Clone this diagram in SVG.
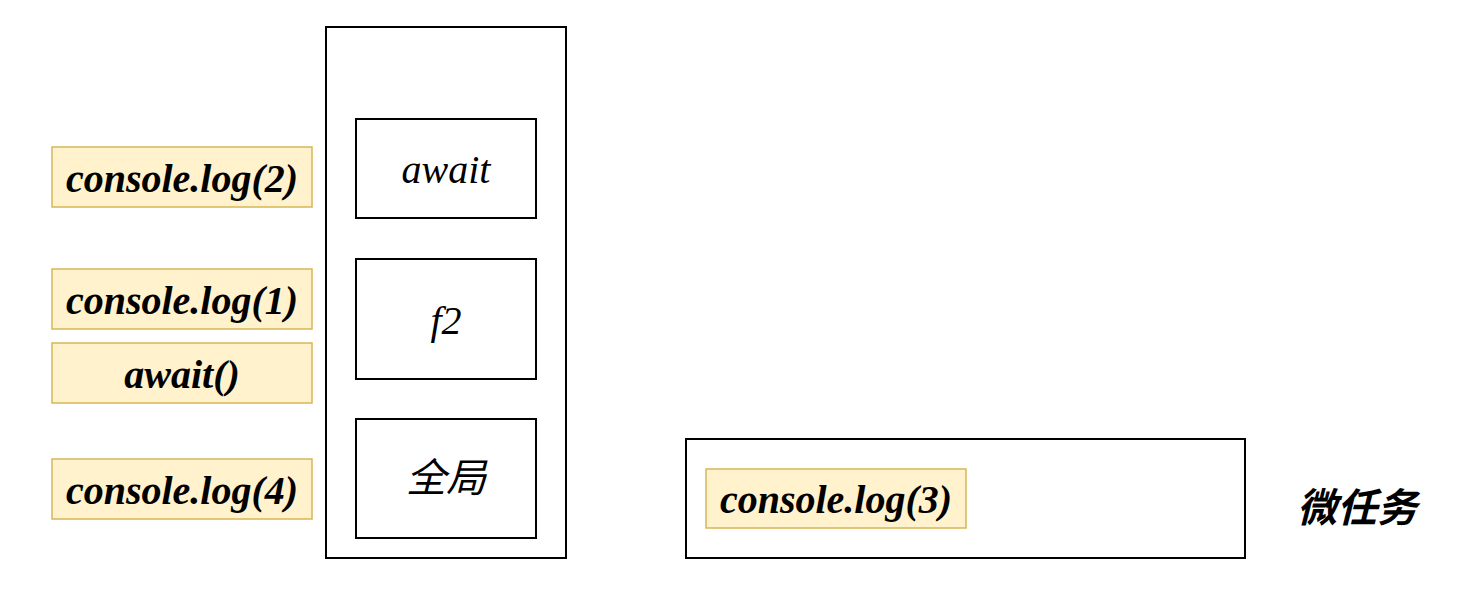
<svg xmlns="http://www.w3.org/2000/svg" width="1460" height="592" viewBox="0 0 1460 592">
<style>
.frame{fill:#fff;stroke:#000;stroke-width:2}
.task{fill:#fff2cc;stroke:#d6b656;stroke-width:1.5}
.tt{font-family:'Liberation Serif','Times New Roman',Tinos,'DejaVu Serif',serif;font-weight:bold;font-style:italic;font-size:40px;fill:#000;text-anchor:middle;dominant-baseline:central}
.st{font-family:'Liberation Serif','Times New Roman',Tinos,'DejaVu Serif',serif;font-style:italic;font-size:40px;fill:#000;text-anchor:middle;dominant-baseline:central}
.cjk{font-family:'Liberation Sans','Noto Sans CJK SC',sans-serif;font-style:italic;font-size:40px;fill:#000;text-anchor:middle;dominant-baseline:central}
</style>
<rect width="1460" height="592" fill="#fff"/>
<g id="stack"><rect class="frame" x="326" y="27" width="240" height="531"/></g>
<g id="frame-await"><rect class="frame" x="356" y="119" width="180" height="99"/><text class="st" x="446" y="169">await</text></g>
<g id="frame-f2"><rect class="frame" x="356" y="259" width="180" height="120"/><text class="st" x="446" y="320">f2</text></g>
<g id="frame-global"><rect class="frame" x="356" y="419" width="180" height="119"/><text class="cjk" x="446" y="478">全局</text></g>
<g id="log2"><rect class="task" x="52" y="147" width="260" height="60"/><text class="tt" x="182" y="178">console.log(2)</text></g>
<g id="log1"><rect class="task" x="52" y="269" width="260" height="60"/><text class="tt" x="182" y="300">console.log(1)</text></g>
<g id="await-call"><rect class="task" x="52" y="343" width="260" height="60"/><text class="tt" x="182" y="374">await()</text></g>
<g id="log4"><rect class="task" x="52" y="459" width="260" height="60"/><text class="tt" x="182" y="490">console.log(4)</text></g>
<g id="microtask-queue"><rect class="frame" x="686" y="439" width="559" height="119"/></g>
<g id="log3"><rect class="task" x="706" y="469" width="260" height="59"/><text class="tt" x="836" y="499">console.log(3)</text></g>
<g id="microtask-label"><text class="cjk" x="1357" y="508" style="font-weight:bold">微任务</text></g>
<g id="connectors"></g>
</svg>
